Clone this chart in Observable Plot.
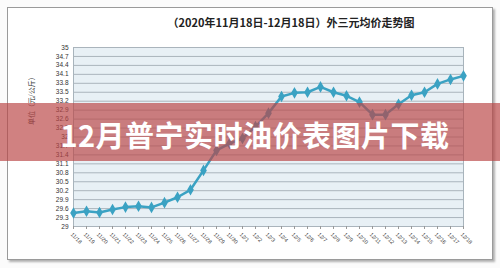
<!DOCTYPE html>
<html>
<head>
<meta charset="utf-8">
<script src="https://cdn.jsdelivr.net/npm/d3@7"></script>
<script src="https://cdn.jsdelivr.net/npm/@observablehq/plot@0.6"></script>
<style>
  html, body { margin: 0; padding: 0; background: #ffffff; }
  #wrap { position: relative; width: 500px; height: 268px; overflow: hidden; background: #fbfbfb; }
  #frame { position: absolute; left: 7px; top: 7px; width: 484px; height: 251px; background: #fff;
           border: 1px solid #9a9a9a; box-shadow: 2px 2px 2px #b0b0b0; }
  #title { position: absolute; left: 0; width: 582px; top: 14px; text-align: center;
           font: bold 11px "Noto Sans CJK SC", sans-serif; color: #222; }
  #chart { position: absolute; left: 0; top: 0; }
  #band { position: absolute; left: 0; top: 103px; width: 500px; height: 58px; background: rgba(185,70,70,0.68); }
  #bandText { position: absolute; left: 0; width: 510px; top: 114px; text-align: center;
              font: bold 29px "Noto Sans CJK SC", sans-serif; color: #fff; letter-spacing: 0.5px; line-height: 40px; }
</style>
</head>
<body>
<div id="wrap">
  <div id="frame"></div>
  <div id="chart"></div>
  <div id="title">（2020年11月18日-12月18日）外三元均价走势图</div>
  <div id="band"></div>
  <div id="bandText">12月普宁实时油价表图片下载</div>
</div>
<script>
const dates = ["11/18","11/19","11/20","11/21","11/22","11/23","11/24","11/25","11/26","11/27","11/28","11/29","11/30",
  "12/1","12/2","12/3","12/4","12/5","12/6","12/7","12/8","12/9","12/10","12/11","12/12","12/13","12/14","12/15","12/16","12/17","12/18"];
const prices = [29.45, 29.51, 29.47, 29.57, 29.65, 29.68, 29.64, 29.80, 29.98, 30.23, 30.88, 31.55, 31.78,
  31.95, 32.35, 32.80, 33.36, 33.48, 33.50, 33.68, 33.50, 33.38, 33.17, 32.75, 32.75, 33.10, 33.40, 33.50, 33.78, 33.93, 34.05];
const yTicks = [29, 29.3, 29.6, 29.9, 30.2, 30.5, 30.8, 31.1, 31.4, 31.7, 32, 32.3, 32.6, 32.9, 33.2, 33.5, 33.8, 34.1, 34.4, 34.7, 35];
const yLabel = "单位（元/公斤）";

const data = dates.map((d, i) => ({date: d, price: prices[i]}));
const fmt = v => String(+v.toFixed(1));

const chart = Plot.plot({
  width: 500,
  height: 268,
  marginLeft: 73,
  marginRight: 37,
  marginTop: 47,
  marginBottom: 42,
  style: {background: "transparent", fontFamily: "Liberation Sans, sans-serif"},
  x: {type: "point", domain: dates, padding: 0, axis: null, label: null},
  y: {domain: [29, 35], axis: null, label: null},
  marks: [
    Plot.frame({fill: "#e8f0f5", stroke: "#a8b4bc"}),
    Plot.ruleY(yTicks, {stroke: "#aab4bc", strokeWidth: 1}),
    Plot.axisY({ticks: yTicks, tickFormat: fmt, tickSize: 0, tickPadding: 5, fontSize: 6.5, fill: "#333", label: null}),
    Plot.axisX({ticks: dates, tickSize: 3, tickFormat: () => "", stroke: "#999", label: null}),
    Plot.text(dates, {x: d => d, y: () => 29, dy: 7, dx: -2, rotate: 45, textAnchor: "start", fontSize: 5.5, fill: "#444"}),
    Plot.text([yLabel], {frameAnchor: "left", dx: -42, dy: -12, rotate: -90, fontSize: 7, fill: "#333",
      fontFamily: "Noto Sans CJK SC"}),
    Plot.line(data, {x: "date", y: "price", stroke: "#3ba2c3", strokeWidth: 2.5}),
    Plot.dot(data, {x: "date", y: "price", symbol: "diamond", r: 2.6, fill: "#3ba2c3", stroke: "#3ba2c3"})
  ]
});
document.getElementById("chart").appendChild(chart);
</script>
</body>
</html>
